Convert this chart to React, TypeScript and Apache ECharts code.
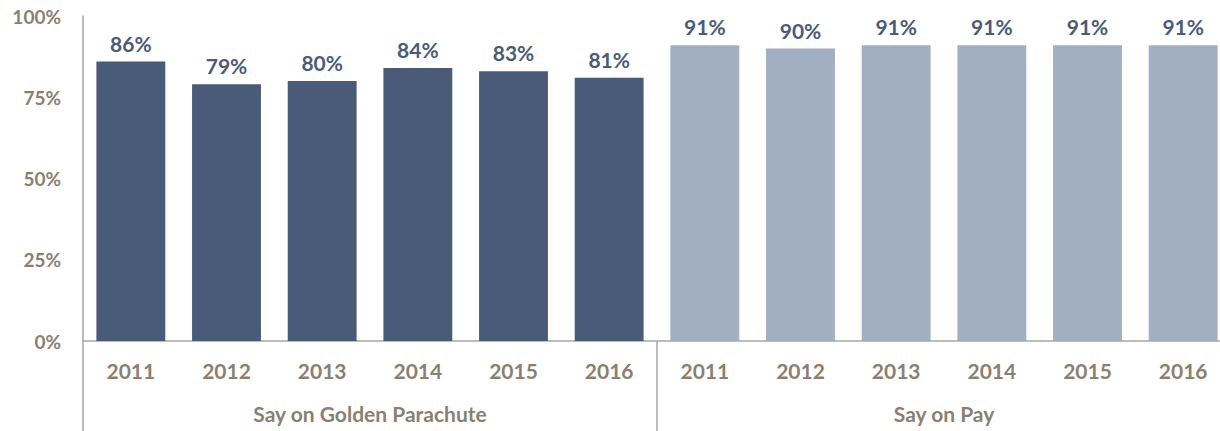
import React, { useEffect, useRef } from "react";
import * as echarts from "echarts";

const years = ["2011", "2012", "2013", "2014", "2015", "2016"];
const groups = ["Say on Golden Parachute", "Say on Pay"];
const goldenParachute = [86, 79, 80, 84, 83, 81];
const sayOnPay = [91, 90, 91, 91, 91, 91];
const yTicks = [0, 25, 50, 75, 100];

const DARK = "#4a5b7a";
const LIGHT = "#a2aec2";
const TEXT = "#8a7f70";
const FONT = "Lato";

export default function App() {
  const ref = useRef<HTMLDivElement>(null);
  useEffect(() => {
    document.body.style.margin = "0";
    document.body.style.overflow = "hidden";
    const chart = echarts.init(ref.current!, undefined, { renderer: "svg" });
    const cats = [...years, ...years];
    const data = [
      ...goldenParachute.map((v) => ({ value: v, itemStyle: { color: DARK } })),
      ...sayOnPay.map((v) => ({ value: v, itemStyle: { color: LIGHT } })),
    ];
    chart.setOption({
      animation: false,
      grid: { left: 83, right: 0, top: 16, bottom: 90 },
      xAxis: [
        {
          type: "category",
          data: cats,
          position: "bottom",
          axisLine: { show: true, lineStyle: { color: "#a6a6a6", width: 1.5 } },
          axisTick: { show: false },
          axisLabel: {
            interval: 0,
            margin: 19,
            color: TEXT,
            fontFamily: FONT,
            fontWeight: "bold",
            fontSize: 21,
          },
        },
        {
          type: "category",
          data: groups,
          position: "bottom",
          axisLine: { show: false },
          axisTick: {
            show: true,
            length: 90,
            interval: 0,
            lineStyle: { color: "#a6a6a6", width: 1.5 },
          },
          axisLabel: {
            interval: 0,
            margin: 62,
            color: TEXT,
            fontFamily: FONT,
            fontWeight: "bold",
            fontSize: 21,
          },
        },
      ],
      yAxis: {
        type: "value",
        min: yTicks[0],
        max: yTicks[yTicks.length - 1],
        interval: 25,
        axisLine: { show: true, lineStyle: { color: "#a6a6a6", width: 1.5 } },
        axisTick: { show: false },
        splitLine: { show: false },
        axisLabel: {
          margin: 22,
          color: TEXT,
          fontFamily: FONT,
          fontWeight: "bold",
          fontSize: 19,
          formatter: (v: number) => v + "%",
        },
      },
      series: [
        {
          type: "bar",
          xAxisIndex: 0,
          data,
          barWidth: "72%",
          label: {
            show: true,
            position: "top",
            distance: 8,
            color: DARK,
            fontFamily: FONT,
            fontWeight: "bold",
            fontSize: 21,
            formatter: (p: any) => p.value + "%",
          },
        },
      ],
    });
    return () => chart.dispose();
  }, []);
  return <div ref={ref} style={{ width: 1231, height: 431 }} />;
}
